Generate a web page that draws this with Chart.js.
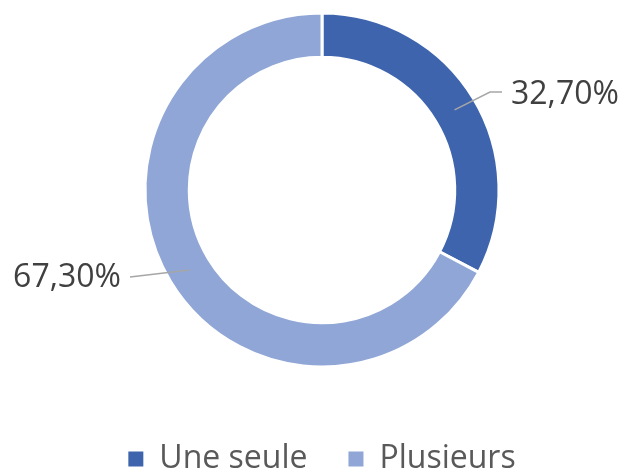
<!DOCTYPE html>
<html>
<head>
<meta charset="utf-8">
<script src="https://cdn.jsdelivr.net/npm/chart.js@4"></script>
<style>
  html, body { margin: 0; padding: 0; background: #fff; }
  #wrap { width: 623px; height: 470px; }
</style>
</head>
<body>
<div id="wrap"><canvas id="chart" width="623" height="470"></canvas></div>
<script>
const categories = ["Une seule", "Plusieurs"];
const shares = [32.7, 67.3];
const valueLabels = ["32,70%", "67,30%"];
const sliceColors = ['#3E64AD', '#8FA6D6'];

// leader lines: elbow point and text anchor, relative to the doughnut centre
const leaders = [
    { elbowX: 168, elbowY: -98, endX: 180, textX: 189, textY: -95, align: 'left' },
    { elbowX: -192, elbowY: 87, endX: -192, textX: -201, textY: 88, align: 'right' }
];

const leaderLabels = {
    id: 'leaderLabels',
    afterDatasetsDraw(chart) {
        const ctx = chart.ctx;
        const meta = chart.getDatasetMeta(0);
        meta.data.forEach((arc, i) => {
            const p = arc.getProps(['x', 'y', 'startAngle', 'endAngle', 'innerRadius', 'outerRadius'], true);
            const mid = (p.startAngle + p.endAngle) / 2;
            const r = (p.innerRadius + p.outerRadius) / 2;
            const sx = p.x + Math.cos(mid) * r;
            const sy = p.y + Math.sin(mid) * r;
            const l = leaders[i];
            ctx.save();
            ctx.strokeStyle = '#A6A6A6';
            ctx.lineWidth = 1.5;
            ctx.beginPath();
            ctx.moveTo(sx, sy);
            ctx.lineTo(p.x + l.elbowX, p.y + l.elbowY);
            ctx.lineTo(p.x + l.endX, p.y + l.elbowY);
            ctx.stroke();
            ctx.fillStyle = '#404040';
            ctx.font = '32px "Open Sans"';
            ctx.textAlign = l.align;
            ctx.textBaseline = 'middle';
            ctx.fillText(valueLabels[i], p.x + l.textX, p.y + l.textY);
            ctx.restore();
        });
    }
};

const defaultLabels = Chart.overrides.doughnut.plugins.legend.labels.generateLabels;

new Chart("chart", {
    type: "doughnut",
    data: {
        labels: categories,
        datasets: [
            {
                data: shares,
                backgroundColor: sliceColors,
                borderColor: '#ffffff',
                borderWidth: 3,
            }
        ]
    },
    options: {
        responsive: false,
        animation: false,
        radius: 177,
        cutout: '75%',
        layout: {
            padding: { top: 0, bottom: -15, left: 21, right: 0 }
        },
        plugins: {
            tooltip: { enabled: false },
            legend: {
                position: 'bottom',
                // empty title only used as a spacer above the legend row
                title: {
                    display: true,
                    text: '',
                    font: { size: 10 },
                    padding: { top: 10, bottom: 0 }
                },
                labels: {
                    boxWidth: 15,
                    boxHeight: 15,
                    padding: 41,
                    color: '#595959',
                    font: { family: 'Open Sans', size: 32 },
                    generateLabels(chart) {
                        return defaultLabels(chart).map(item => ({ ...item, lineWidth: 0 }));
                    }
                }
            }
        }
    },
    plugins: [leaderLabels]
});
</script>
</body>
</html>
